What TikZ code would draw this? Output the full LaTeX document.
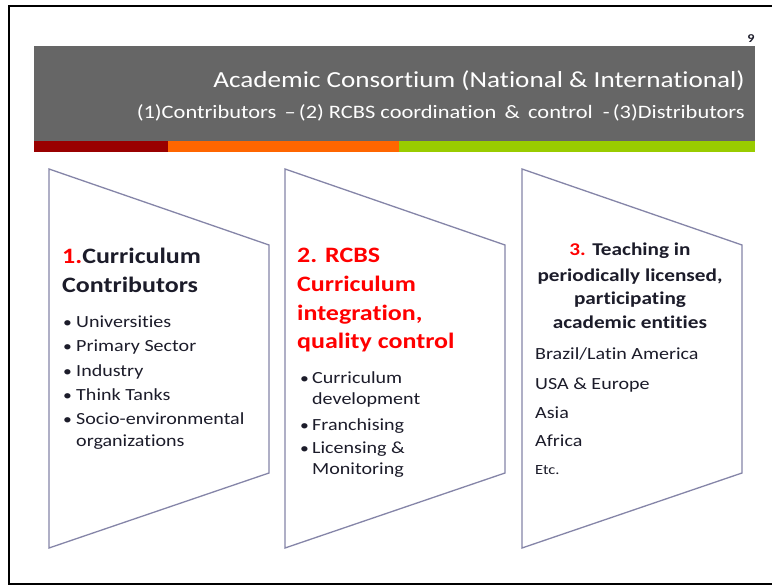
\documentclass[tikz,border=0pt]{standalone}
\usepackage{fontspec}
\setmainfont{Carlito}[FakeStretch=1.18,Ligatures=NoCommon]
\begin{document}
\definecolor{banner}{HTML}{666666}
\definecolor{stripred}{HTML}{990000}
\definecolor{stripor}{HTML}{FF6600}
\definecolor{stripgr}{HTML}{99CC00}
\definecolor{edge}{HTML}{8585A8}
\definecolor{ink}{HTML}{1C1C2A}
\definecolor{hot}{HTML}{FF0000}
\begin{tikzpicture}[x=1pt,y=-1pt,
  panel/.style={draw=edge,line width=1.3pt,fill=white,line join=miter},
  txt/.style={inner sep=0pt,yshift=-4pt,text=ink},
  head/.style={txt,anchor=mid west,font=\fontsize{22}{26}\selectfont\bfseries},
  item/.style={txt,anchor=mid west,font=\fontsize{17}{20}\selectfont},
  dot/.style={txt,anchor=mid west,font=\fontsize{15}{18}\selectfont},
  region/.style={txt,anchor=mid west,font=\fontsize{17}{20}\selectfont},
  titletext/.style={txt,anchor=mid east,yshift=-1pt,text=white}]
\useasboundingbox (0,0) rectangle (772,585);
\fill[white] (0,0) rectangle (772,585);
% slide frame
\draw[black,line width=2pt] (772,6.5) -- (8.5,6.5) -- (8.5,584) -- (772,584);
% page number
\node[anchor=mid,inner sep=0pt,font=\fontsize{12}{14}\selectfont\bfseries,text=ink] (pg) at (751,40) {9};
% header banner and colour strip
\fill[banner] (33.5,46) rectangle (755,141);
\fill[stripred] (33.5,141) rectangle (168,152);
\fill[stripor] (168,141) rectangle (399,152);
\fill[stripgr] (399,141) rectangle (755,152);
\node[titletext,font=\fontsize{23}{27}\selectfont] (title) at (745,80) {Academic Consortium (National \& International)};
\node[titletext,font=\fontsize{19}{22}\selectfont] (sub) at (745,111) {(1)Contributors \,–\,(2) RCBS coordination \,\&\, control \ -\,(3)Distributors};
% three panels
\foreach \x/\n in {49/a,285/b,522/c}{
  \draw[panel] (\x,169) -- ({\x+220},245) -- ({\x+220},473) -- (\x,548) -- cycle;
}
% panel 1
\node[head] (h1a) at (62,257) {\textcolor{hot}{1.}Curriculum};
\node[head] (h1b) at (62,286) {Contributors};
\foreach \y/\t in {321/Universities,345/Primary Sector,370/Industry,394/Think Tanks,418/Socio-environmental}{
  \node[dot] at (63,\y) {•};
  \node[item] at (76,\y) {\t};
}
\node[item] (org) at (76,440) {organizations};
% panel 2
\begin{scope}[every node/.style={head,text=hot}]
\node (h2a) at (297,256) {2. RCBS};
\node (h2b) at (297,285) {Curriculum};
\node (h2c) at (297,314) {integration,};
\node (h2d) at (297,342) {quality control};
\end{scope}
\node[dot] at (300,377) {•};
\node[item] (i2a) at (312,377) {Curriculum};
\node[item] (i2b) at (312,398) {development};
\node[dot] at (300,424) {•};
\node[item] (i2c) at (312,424) {Franchising};
\node[dot] at (300,447) {•};
\node[item] (i2d) at (312,447) {Licensing \&};
\node[item] (i2e) at (312,468) {Monitoring};
% panel 3
\begin{scope}[every node/.style={txt,anchor=mid,font=\fontsize{18}{21}\selectfont\bfseries}]
\node (h3a) at (630,249) {\textcolor{hot}{3.} Teaching in};
\node (h3b) at (630,275) {periodically licensed,};
\node (h3c) at (630,298) {participating};
\node (h3d) at (630,322) {academic entities};
\end{scope}
\node[region] (r1) at (535,353) {Brazil/Latin America};
\node[region] (r2) at (535,383) {USA \& Europe};
\node[region] (r3) at (535,412) {Asia};
\node[region] (r4) at (535,440) {Africa};
\node[region,font=\fontsize{14}{17}\selectfont] (r5) at (535,468) {Etc.};
\end{tikzpicture}
\end{document}
